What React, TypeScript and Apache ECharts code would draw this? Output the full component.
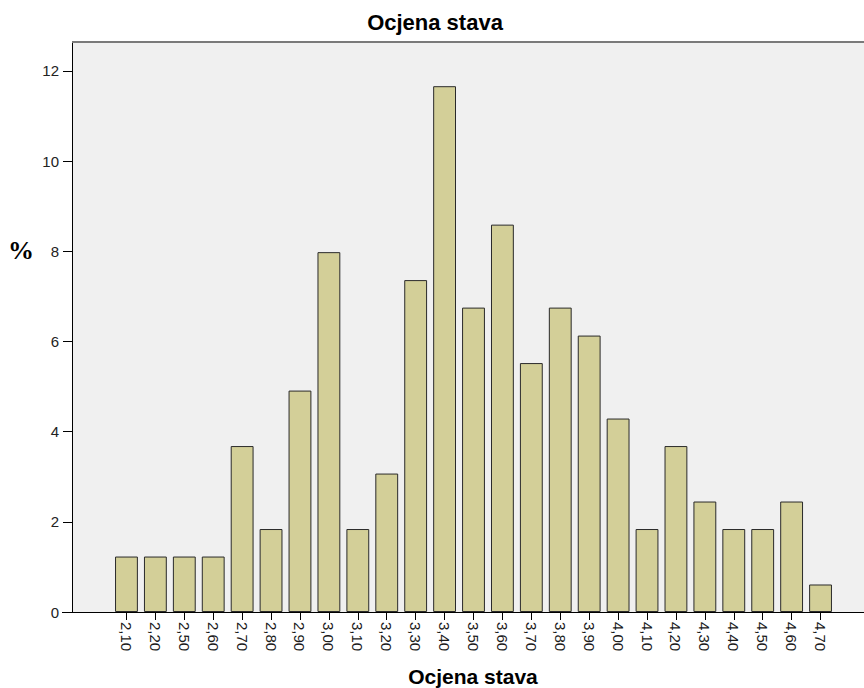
import React, { useEffect, useRef } from "react";
import * as echarts from "echarts";

const categories = ["2,10", "2,20", "2,50", "2,60", "2,70", "2,80", "2,90", "3,00", "3,10", "3,20", "3,30", "3,40", "3,50", "3,60", "3,70", "3,80", "3,90", "4,00", "4,10", "4,20", "4,30", "4,40", "4,50", "4,60", "4,70"];
const percentValues = [1.23, 1.23, 1.23, 1.23, 3.68, 1.84, 4.91, 7.98, 1.84, 3.07, 7.36, 11.66, 6.75, 8.59, 5.52, 6.75, 6.13, 4.29, 1.84, 3.68, 2.45, 1.84, 1.84, 2.45, 0.61];
const yTicks = [0, 2, 4, 6, 8, 10, 12];
const titleText = "Ocjena stava";
const xAxisTitle = "Ocjena stava";
const yAxisTitle = "%";

const SANS = "'Liberation Sans', Arial, sans-serif";

export default function App() {
  const ref = useRef<HTMLDivElement>(null);
  useEffect(() => {
    if (!ref.current) return;
    const chart = echarts.init(ref.current, null, { renderer: "svg" });
    chart.setOption({
      animation: false,
      backgroundColor: "#ffffff",
      grid: { left: 112, right: 29, top: 42, bottom: 76, containLabel: false },
      xAxis: {
        type: "category",
        data: categories,
        axisLine: { show: false },
        axisTick: { show: true, alignWithLabel: true, length: 8, lineStyle: { color: "#000", width: 1 } },
        axisLabel: { rotate: -90, margin: 10, fontSize: 15, color: "#1a1a1a", fontFamily: SANS, interval: 0 },
        splitLine: { show: false },
      },
      yAxis: {
        type: "value",
        min: 0,
        max: 12.64,
        interval: 2,
        offset: 40,
        axisLine: { show: true, lineStyle: { color: "#000", width: 1 } },
        axisTick: { show: true, length: 9, lineStyle: { color: "#000", width: 1 }, customValues: yTicks },
        axisLabel: { margin: 13, fontSize: 15, color: "#222", fontFamily: SANS, customValues: yTicks },
        splitLine: { show: false },
      },
      series: [
        {
          type: "bar",
          data: percentValues,
          barCategoryGap: "21%",
          itemStyle: { color: "#d3cf98", borderColor: "#2a2a2a", borderWidth: 1 },
          z: 5,
        },
      ],
      graphic: [
        { type: "rect", z: -100, silent: true, shape: { x: 72, y: 42, width: 792, height: 570 }, style: { fill: "#f0f0f0" } },
        { type: "line", z: 10, silent: true, shape: { x1: 72, y1: 42, x2: 864, y2: 42 }, style: { stroke: "#7a7a7a", lineWidth: 2 } },
        { type: "line", z: 10, silent: true, shape: { x1: 62, y1: 612.5, x2: 864, y2: 612.5 }, style: { stroke: "#000", lineWidth: 1 } },
        { type: "text", silent: true, x: 435, y: 22, style: { text: titleText, fontSize: 22, fontWeight: "bold", fontFamily: SANS, fill: "#000", textAlign: "center", textVerticalAlign: "middle" } },
        { type: "text", silent: true, x: 473, y: 676, style: { text: xAxisTitle, fontSize: 21, fontWeight: "bold", fontFamily: SANS, fill: "#000", textAlign: "center", textVerticalAlign: "middle" } },
        { type: "text", silent: true, x: 21, y: 250, style: { text: yAxisTitle, fontSize: 26, fontWeight: "bold", fontFamily: "'Liberation Serif', 'DejaVu Serif', serif", fill: "#000", textAlign: "center", textVerticalAlign: "middle" } },
      ],
    });
    return () => chart.dispose();
  }, []);
  return <div ref={ref} style={{ position: "fixed", left: 0, top: 0, width: 864, height: 688 }} />;
}
